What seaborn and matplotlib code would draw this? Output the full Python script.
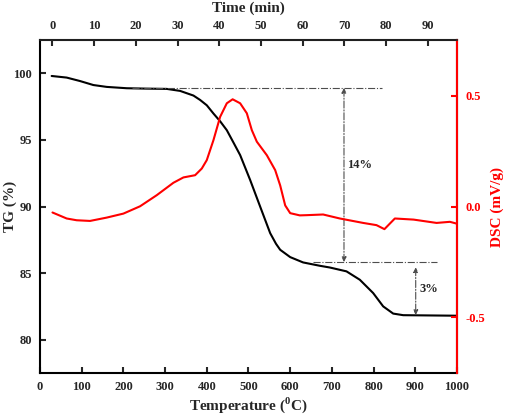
import numpy as np
import pandas as pd
import matplotlib
matplotlib.use("Agg")
import matplotlib.pyplot as plt
import seaborn as sns

# TG curve (temperature in C, mass in %)
tg_temp = [28, 64, 96, 128, 160, 208, 256, 304, 336, 368, 384, 400, 416, 432,
           448, 464, 480, 504, 528, 552, 566, 576, 600, 631, 671, 695, 735, 767,
           799, 823, 847, 871, 1000]
tg_val = [99.8, 99.68, 99.42, 99.12, 98.98, 98.88, 98.85, 98.83, 98.68, 98.33,
          98.0, 97.6, 96.98, 96.4, 95.73, 94.8, 93.86, 91.99, 89.99, 88.0, 87.2,
          86.75, 86.2, 85.8, 85.55, 85.42, 85.13, 84.5, 83.5, 82.5, 81.96, 81.84,
          81.8]

# DSC curve (temperature in C, heat flow in mV/g)
dsc_temp = [30, 64, 88, 120, 160, 200, 240, 280, 320, 344, 372, 388, 400, 416,
            432, 448, 462, 480, 496, 508, 520, 544, 564, 576, 588, 600, 623, 640,
            679, 719, 775, 807, 826, 839, 851, 896, 951, 983, 999]
dsc_val = [-0.027, -0.054, -0.062, -0.065, -0.05, -0.032, 0.001, 0.051, 0.107,
           0.131, 0.141, 0.171, 0.209, 0.299, 0.404, 0.465, 0.483, 0.465, 0.42,
           0.344, 0.292, 0.231, 0.164, 0.095, 0.005, -0.03, -0.04, -0.039, -0.036,
           -0.054, -0.074, -0.084, -0.102, -0.077, -0.054, -0.059, -0.074, -0.069,
           -0.077]

# mass-loss annotations
step1_top, step1_bottom, step1_x = 98.9, 85.83, 729
step2_top, step2_bottom, step2_x = 85.83, 81.85, 901

sns.set_theme(style="ticks")
plt.rcParams['font.family'] = ['Liberation Serif', 'DejaVu Serif']
plt.rcParams['font.weight'] = 'bold'
plt.rcParams['mathtext.fontset'] = 'custom'
plt.rcParams['mathtext.rm'] = 'Liberation Serif:bold'

tg_df = pd.DataFrame({'Temperature': tg_temp, 'TG': tg_val})
dsc_df = pd.DataFrame({'Temperature': dsc_temp, 'DSC': dsc_val})

fig = plt.figure(figsize=(5.08, 4.16), dpi=100)
ax = fig.add_axes([0.0787, 0.1034, 0.8209, 0.8004])

sns.lineplot(data=tg_df, x='Temperature', y='TG', ax=ax, color='black',
             linewidth=1.5, sort=False, estimator=None)
ax.set_xlim(0, 1000)
ax.set_ylim(77.5, 102.5)
ax.set_xticks(np.arange(0, 1001, 100))
ax.set_yticks([80, 85, 90, 95, 100])
ax.set_xlabel('Temperature ($^0$C)', fontsize=11, fontweight='bold', va='center')
ax.set_ylabel('TG (%)', fontsize=11, fontweight='bold', va='center')
ax.xaxis.set_label_coords(0.5, -0.096)
ax.yaxis.set_label_coords(-0.072, 0.5)
ax.tick_params(direction='in', length=4.5, width=1.5, labelsize=9, pad=6)
for s in ax.spines.values():
    s.set_linewidth(1.5)
    s.set_color('black')

# DSC on right axis
ax2 = ax.twinx()
sns.lineplot(data=dsc_df, x='Temperature', y='DSC', ax=ax2, color='red',
             linewidth=1.5, sort=False, estimator=None)
ax2.set_ylim(-0.75, 0.75)
ax2.set_yticks([-0.5, 0.0, 0.5])
ax2.set_yticklabels(['-0.5', '0.0', '0.5'])
ax2.set_ylabel('DSC (mV/g)', fontsize=11, fontweight='bold', color='red',
               va='center')
ax2.yaxis.set_label_coords(1.096, 0.5)
ax2.tick_params(axis='y', direction='in', length=4.5, width=1.5, labelsize=9,
                colors='red', pad=6)
ax2.spines['right'].set_color('red')
ax2.spines['right'].set_linewidth(1.5)
for side in ['left', 'top', 'bottom']:
    ax2.spines[side].set_visible(False)

# time on top axis (T = 30 + 10 t)
ax3 = ax.twiny()
ax3.set_xlim(-3, 97)
ax3.set_xticks(np.arange(0, 91, 10))
ax3.set_xlabel('Time (min)', fontsize=11, fontweight='bold', va='center')
ax3.xaxis.set_label_coords(0.5, 1.096)
ax3.tick_params(axis='x', direction='in', length=4.5, width=1.5, labelsize=9,
                pad=6)
for side in ['left', 'right', 'bottom']:
    ax3.spines[side].set_visible(False)

for t in ax.get_xticklabels() + ax.get_yticklabels() + ax2.get_yticklabels() + ax3.get_xticklabels():
    t.set_fontweight('bold')

# annotation lines
gray = '0.3'
ax.plot([220, 820], [step1_top, step1_top], ls='-.', lw=0.8, color=gray)
ax.plot([655, 952], [step1_bottom, step1_bottom], ls='-.', lw=0.8, color=gray)
arrow = dict(arrowstyle='<|-|>', ls='-.', lw=0.8, color=gray,
             mutation_scale=7, shrinkA=0, shrinkB=0)
ax.annotate('', xy=(step1_x, step1_bottom), xytext=(step1_x, step1_top),
            arrowprops=arrow)
ax.annotate('', xy=(step2_x, step2_bottom), xytext=(step2_x, step2_top - 0.4),
            arrowprops=arrow)
ax.text(step1_x + 8, 93.1, '14%', fontsize=9, fontweight='bold', va='center')
ax.text(step2_x + 8, 83.8, '3%', fontsize=9, fontweight='bold', va='center')

fig.savefig('out.png', dpi=100)
